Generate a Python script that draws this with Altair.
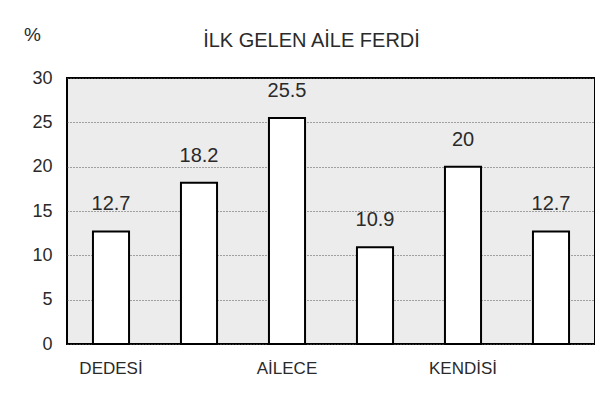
import altair as alt
import pandas as pd

positions = [1, 2, 3, 4, 5, 6]
tick_labels = ["DEDESİ", "", "AİLECE", "", "KENDİSİ", ""]
values = [12.7, 18.2, 25.5, 10.9, 20, 12.7]
chart_title = "İLK GELEN AİLE FERDİ"

df = pd.DataFrame({"pos": positions, "label": tick_labels, "value": values})

label_js = "[" + ",".join('"%s"' % s for s in tick_labels) + "]"

FONT = "Liberation Sans"
TXT = "#2a2a2a"

scale_x = alt.Scale(paddingInner=0.59, paddingOuter=0.295)

x_bottom = alt.X(
    "pos:O",
    scale=scale_x,
    axis=alt.Axis(
        title=None,
        orient="bottom",
        labelExpr=label_js + "[datum.value - 1]",
        labelAngle=0,
        ticks=False,
        domain=False,
        labelPadding=16,
        labelFontSize=17,
        labelFont=FONT,
        labelColor=TXT,
    ),
)
x_top = alt.X(
    "pos:O",
    scale=scale_x,
    axis=alt.Axis(
        title=chart_title,
        orient="top",
        labels=False,
        ticks=False,
        domain=False,
        grid=False,
        titleX=244,
        titleY=-38,
        titleAlign="center",
        titleBaseline="middle",
        titleFontSize=20,
        titleFontWeight="normal",
        titleFont=FONT,
        titleColor=TXT,
    ),
)
y = alt.Y(
    "value:Q",
    scale=alt.Scale(domain=[0, 30], nice=False),
    axis=alt.Axis(
        values=[0, 5, 10, 15, 20, 25, 30],
        title="%",
        titleAngle=0,
        titleX=-35,
        titleY=-44,
        titleAlign="center",
        titleBaseline="middle",
        titleFontSize=19,
        titleFontWeight="normal",
        titleFont=FONT,
        titleColor=TXT,
        ticks=False,
        domain=False,
        labelPadding=15,
        labelFontSize=18,
        labelFont=FONT,
        labelColor=TXT,
        grid=True,
        gridColor="#555555",
        gridDash=[1, 2],
        gridWidth=1,
    ),
)

bars = alt.Chart(df).mark_bar(
    fill="white", stroke="black", strokeWidth=2
).encode(x=x_bottom, y=y)

texts = alt.Chart(df).mark_text(
    dy=-27, baseline="middle", fontSize=20, font=FONT, color=TXT
).encode(x=x_top, y=y, text=alt.Text("value:Q", format=".3~"))

chart = (
    alt.layer(bars, texts)
    .properties(
        width=528,
        height=266,
        padding={"left": 59, "top": 70, "right": 0, "bottom": 40},
        autosize=alt.AutoSizeParams(type="none"),
        background="white",
    )
    .configure_view(fill="#ececec", stroke="black", strokeWidth=2)
)

chart.save("out.html", embed_options={"renderer": "svg", "actions": False})
